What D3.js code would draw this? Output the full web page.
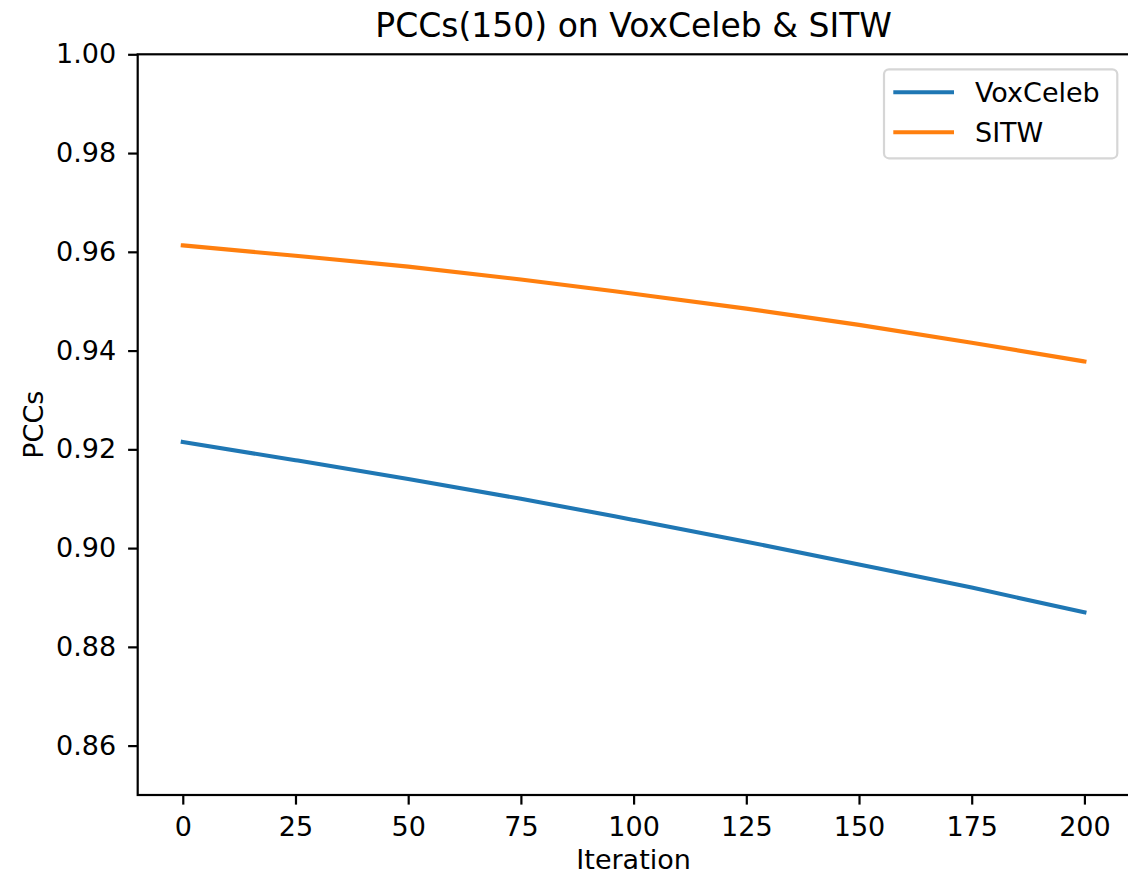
<!DOCTYPE html>
<html>
<head>
<meta charset="utf-8">
<script src="https://cdn.jsdelivr.net/npm/d3@7"></script>
<style>
  body { margin: 0; background: #fff; }
  svg { display: block; font-family: "DejaVu Sans", sans-serif; }
</style>
</head>
<body>
<svg id="paper"></svg>
<script>
// data
const iterations = [0, 25, 50, 75, 100, 125, 150, 175, 200];
const voxceleb = [0.9215, 0.9178, 0.9140, 0.9100, 0.9057, 0.9013, 0.8967, 0.8920, 0.8870];
const sitw = [0.9613, 0.9592, 0.9570, 0.9544, 0.9515, 0.9485, 0.9452, 0.9416, 0.9378];
const seriesNames = ["VoxCeleb", "SITW"];
const xTicks = [0, 25, 50, 75, 100, 125, 150, 175, 200];
const yTicks = [0.86, 0.88, 0.90, 0.92, 0.94, 0.96, 0.98, 1.00];

const colors = ["#1f77b4", "#ff7f0e"];

// plot area in page pixels
const W = 1128, H = 877;
const margin = {left: 137.7, right: 1129.5, top: 54.3, bottom: 795};

const svg = d3.select("#paper")
    .attr("width", W)
    .attr("height", H);

const x = d3.scaleLinear().domain([-10, 210]).range([margin.left, margin.right]);
const y = d3.scaleLinear().domain([0.85, 1.00]).range([margin.bottom, margin.top]);

// axes
const xAxis = svg.append("g")
    .attr("transform", "translate(0," + margin.bottom + ")")
    .call(d3.axisBottom(x).tickValues(xTicks).tickFormat(d3.format("d"))
        .tickSize(9.6).tickSizeOuter(0).tickPadding(12));

const yAxis = svg.append("g")
    .attr("transform", "translate(" + margin.left + ",0)")
    .call(d3.axisLeft(y).tickValues(yTicks).tickFormat(d3.format(".2f"))
        .tickSize(9.6).tickSizeOuter(0).tickPadding(12));

[xAxis, yAxis].forEach(a => {
    a.select(".domain").remove();
    a.selectAll("line").attr("stroke", "#000").attr("stroke-width", 2.2);
    a.selectAll("text").attr("fill", "#000")
        .style("font-size", "27px")
        .style("font-family", "DejaVu Sans, sans-serif");
});

// lines
const series = [voxceleb, sitw];
const line = d3.line()
    .x((d, i) => x(iterations[i]))
    .y(d => y(d))
    .curve(d3.curveMonotoneX);

svg.append("g")
    .selectAll("path")
    .data(series)
    .enter().append("path")
    .attr("d", d => line(d))
    .attr("fill", "none")
    .attr("stroke", (d, i) => colors[i])
    .attr("stroke-width", 4.1)
    .attr("stroke-linecap", "square");

// spines
svg.append("rect")
    .attr("x", margin.left)
    .attr("y", margin.top)
    .attr("width", margin.right - margin.left)
    .attr("height", margin.bottom - margin.top)
    .attr("fill", "none")
    .attr("stroke", "#000")
    .attr("stroke-width", 2.2);

// title and axis labels
svg.append("text")
    .attr("x", (margin.left + margin.right) / 2)
    .attr("y", 37)
    .attr("text-anchor", "middle")
    .style("font-size", "33px")
    .text("PCCs(150) on VoxCeleb & SITW");

svg.append("text")
    .attr("x", (margin.left + margin.right) / 2)
    .attr("y", 869)
    .attr("text-anchor", "middle")
    .style("font-size", "27px")
    .text("Iteration");

svg.append("text")
    .attr("transform", "translate(42.5," + (margin.top + margin.bottom) / 2 + ") rotate(-90)")
    .attr("text-anchor", "middle")
    .style("font-size", "27px")
    .text("PCCs");

// legend
const legend = svg.append("g");
legend.append("rect")
    .attr("x", 884)
    .attr("y", 69.3)
    .attr("width", 233.3)
    .attr("height", 89)
    .attr("rx", 5)
    .attr("fill", "#fff")
    .attr("fill-opacity", 0.8)
    .attr("stroke", "#d6d6d6")
    .attr("stroke-width", 2.2);

const item = legend.selectAll(".item")
    .data(seriesNames)
    .enter().append("g")
    .attr("class", "item")
    .attr("transform", (d, i) => "translate(0," + (92.3 + i * 40) + ")");

item.append("line")
    .attr("x1", 893.3)
    .attr("x2", 954)
    .attr("stroke", (d, i) => colors[i])
    .attr("stroke-width", 4.1);

item.append("text")
    .attr("x", 975)
    .attr("y", 10)
    .style("font-size", "27px")
    .text(d => d);
</script>
</body>
</html>
